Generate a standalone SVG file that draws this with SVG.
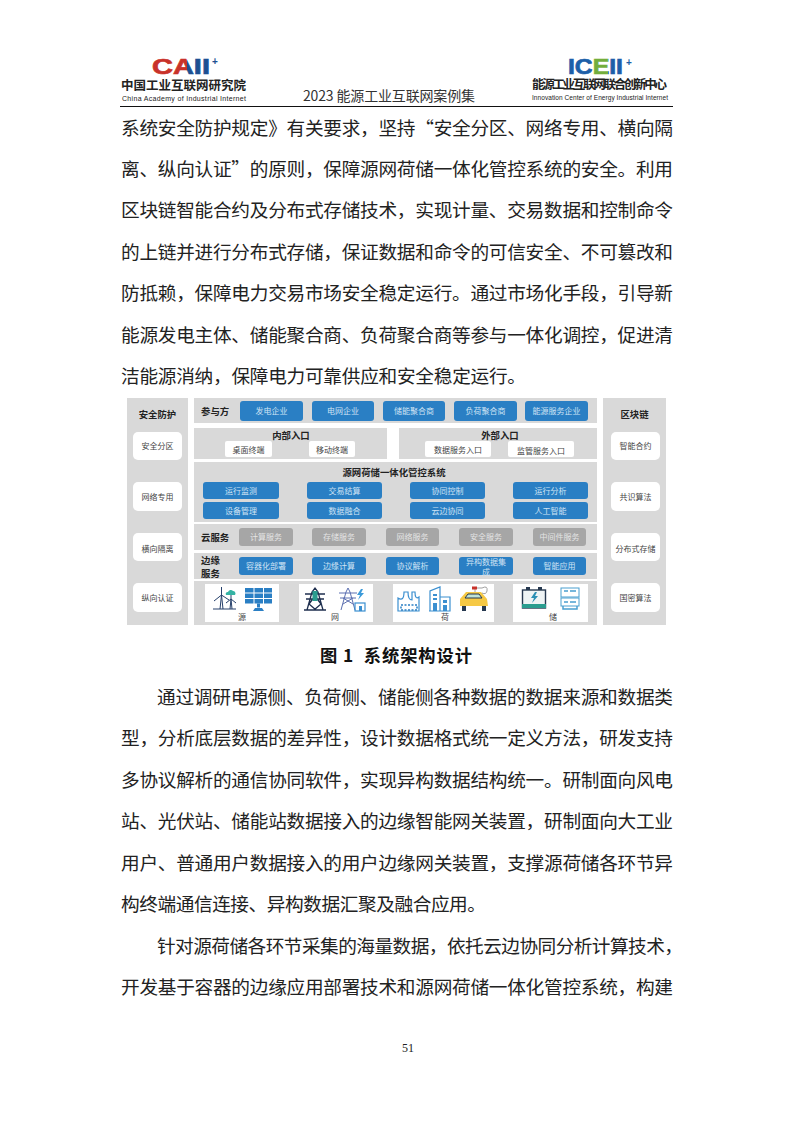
<svg xmlns="http://www.w3.org/2000/svg" width="793" height="1122" viewBox="0 0 793 1122">
<style>
text{font-family:"Noto Sans CJK SC","Liberation Sans",sans-serif}
.body{font-family:"Noto Sans CJK SC",sans-serif;font-size:18.67px;fill:#222}
.panel{fill:#d9d9d9}
.blue{fill:#2a7fc4}
.gray{fill:#a6a6a6}
.wh{fill:#fff}
.wt{font-size:8px;fill:#cfe3f4;text-anchor:middle}
.gt{font-size:8px;fill:#e4e4e4;text-anchor:middle}
.dt{font-size:8px;fill:#444;text-anchor:middle}
.h{font-size:9.4px;font-weight:700;fill:#222}
.logo{font-family:"Liberation Sans",sans-serif;font-size:22.300px;font-weight:700;stroke-width:.7}
.ic{fill:none;stroke:#26406b;stroke-width:1}
.ib{fill:none;stroke:#3b8fd0;stroke-width:1.2}
</style>
<defs>
<linearGradient id="caii" gradientUnits="userSpaceOnUse" x1="152" y1="0" x2="210" y2="0">
<stop offset="0" stop-color="#c8322a"/><stop offset=".6" stop-color="#c8322a"/><stop offset=".6" stop-color="#1d4f91"/><stop offset="1" stop-color="#1d4f91"/>
</linearGradient>
<linearGradient id="iceii" gradientUnits="userSpaceOnUse" x1="568" y1="0" x2="623" y2="0">
<stop offset="0" stop-color="#1d5fa8"/><stop offset=".44" stop-color="#1d5fa8"/><stop offset=".44" stop-color="#72ad3c"/><stop offset=".73" stop-color="#72ad3c"/><stop offset=".73" stop-color="#1d5fa8"/><stop offset="1" stop-color="#1d5fa8"/>
</linearGradient>
</defs>
<rect width="793" height="1122" fill="#fff"/>
<g id="header">
<text class="logo" x="152" y="74" textLength="58" lengthAdjust="spacingAndGlyphs" fill="url(#caii)" stroke="url(#caii)">CAII</text>
<text x="212" y="65" font-size="10" font-weight="700" style="font-family:'Liberation Sans',sans-serif" fill="#1d4f91">+</text>
<text x="121" y="90" font-size="12.500" font-weight="700" fill="#222" textLength="125">中国工业互联网研究院</text>
<text x="122" y="100.500" font-size="7" style="font-family:'Liberation Sans',sans-serif" fill="#222" textLength="124">China Academy of Industrial Internet</text>
<text x="303" y="101" font-size="14" fill="#333" textLength="172">2023 能源工业互联网案例集</text>
<text class="logo" x="568" y="74" textLength="55" lengthAdjust="spacingAndGlyphs" fill="url(#iceii)" stroke="url(#iceii)">ICEII</text>
<text x="626" y="66" font-size="10" font-weight="700" style="font-family:'Liberation Sans',sans-serif" fill="#1d5fa8">+</text>
<text x="532" y="89" font-size="12.500" font-weight="700" fill="#222" textLength="135">能源工业互联网联合创新中心</text>
<text x="532" y="99.500" font-size="6.500" style="font-family:'Liberation Sans',sans-serif" fill="#222" textLength="136">Innovation Center of Energy Industrial Internet</text>
<rect x="120" y="106" width="553" height="1" fill="#111"/>
</g>
<g id="para1">
<text class="body" x="121" y="135" textLength="552">系统安全防护规定》有关要求，坚持“安全分区、网络专用、横向隔</text>
<text class="body" x="121" y="176" textLength="552">离、纵向认证”的原则，保障源网荷储一体化管控系统的安全。利用</text>
<text class="body" x="121" y="217" textLength="552">区块链智能合约及分布式存储技术，实现计量、交易数据和控制命令</text>
<text class="body" x="121" y="259" textLength="552">的上链并进行分布式存储，保证数据和命令的可信安全、不可篡改和</text>
<text class="body" x="121" y="300" textLength="552">防抵赖，保障电力交易市场安全稳定运行。通过市场化手段，引导新</text>
<text class="body" x="121" y="342" textLength="552">能源发电主体、储能聚合商、负荷聚合商等参与一体化调控，促进清</text>
<text class="body" x="121" y="383" textLength="405">洁能源消纳，保障电力可靠供应和安全稳定运行。</text>
</g>
<g id="figure">
<rect class="panel" x="127" y="398" width="61" height="227"/>
<rect class="panel" x="603" y="398" width="63" height="227"/>
<rect class="panel" x="194" y="398" width="403" height="25"/>
<rect class="panel" x="194" y="428" width="193" height="31"/>
<rect class="panel" x="399" y="428" width="198" height="31"/>
<rect class="panel" x="194" y="462" width="403" height="60"/>
<rect class="panel" x="194" y="524" width="403" height="26"/>
<rect class="panel" x="194" y="553" width="403" height="26"/>
<rect class="panel" x="194" y="581" width="403" height="44"/>
<text class="h" x="157.500" y="418" text-anchor="middle">安全防护</text>
<text class="h" x="634.500" y="418" text-anchor="middle">区块链</text>
<text class="h" x="201" y="415">参与方</text>
<text class="h" x="291" y="439" text-anchor="middle">内部入口</text>
<text class="h" x="500" y="439" text-anchor="middle">外部入口</text>
<text class="h" x="394" y="476" text-anchor="middle">源网荷储一体化管控系统</text>
<text class="h" x="201" y="541">云服务</text>
<text class="h" x="201" y="564">边缘</text>
<text class="h" x="201" y="577">服务</text>
<g id="left-items">
<rect class="wh" x="133" y="432" width="49" height="28" rx="5"/><text class="dt" x="157.500" y="449">安全分区</text>
<rect class="wh" x="133" y="482" width="49" height="29" rx="5"/><text class="dt" x="157.500" y="500">网络专用</text>
<rect class="wh" x="133" y="533" width="49" height="28" rx="5"/><text class="dt" x="157.500" y="552">横向隔离</text>
<rect class="wh" x="133" y="583" width="49" height="29" rx="5"/><text class="dt" x="157.500" y="601">纵向认证</text>
</g>
<g id="right-items">
<rect class="wh" x="611" y="432" width="49" height="28" rx="5"/><text class="dt" x="635.500" y="449">智能合约</text>
<rect class="wh" x="611" y="482" width="49" height="29" rx="5"/><text class="dt" x="635.500" y="500">共识算法</text>
<rect class="wh" x="611" y="533" width="49" height="28" rx="5"/><text class="dt" x="635.500" y="552">分布式存储</text>
<rect class="wh" x="611" y="583" width="49" height="29" rx="5"/><text class="dt" x="635.500" y="601">国密算法</text>
</g>
<g id="participants">
<rect class="blue" x="240" y="401" width="63" height="20" rx="3"/><text class="wt" x="271.500" y="414">发电企业</text>
<rect class="blue" x="312" y="401" width="62" height="20" rx="3"/><text class="wt" x="343" y="414">电网企业</text>
<rect class="blue" x="383" y="401" width="62" height="20" rx="3"/><text class="wt" x="414" y="414">储能聚合商</text>
<rect class="blue" x="454" y="401" width="63" height="20" rx="3"/><text class="wt" x="485.500" y="414">负荷聚合商</text>
<rect class="blue" x="525" y="401" width="63" height="20" rx="3"/><text class="wt" x="556.500" y="414">能源服务企业</text>
</g>
<g id="entries">
<rect class="wh" x="225" y="441" width="47" height="16" rx="2"/><text class="dt" x="248.500" y="453">桌面终端</text>
<rect class="wh" x="309" y="441" width="46" height="16" rx="2"/><text class="dt" x="332" y="453">移动终端</text>
<rect class="wh" x="425" y="441" width="66" height="16" rx="2"/><text class="dt" x="458" y="453">数据服务入口</text>
<rect class="wh" x="508" y="441" width="66" height="16" rx="2"/><text class="dt" x="541" y="454">监管服务入口</text>
</g>
<g id="system">
<rect class="blue" x="203" y="482" width="76" height="17" rx="3"/><text class="wt" x="241" y="494">运行监测</text>
<rect class="blue" x="307" y="482" width="75" height="17" rx="3"/><text class="wt" x="344.500" y="494">交易结算</text>
<rect class="blue" x="410" y="482" width="75" height="17" rx="3"/><text class="wt" x="447.500" y="494">协同控制</text>
<rect class="blue" x="513" y="482" width="75" height="17" rx="3"/><text class="wt" x="550.500" y="494">运行分析</text>
<rect class="blue" x="203" y="502" width="76" height="17" rx="3"/><text class="wt" x="241" y="514">设备管理</text>
<rect class="blue" x="307" y="502" width="75" height="17" rx="3"/><text class="wt" x="344.500" y="514">数据融合</text>
<rect class="blue" x="410" y="502" width="75" height="17" rx="3"/><text class="wt" x="447.500" y="514">云边协同</text>
<rect class="blue" x="513" y="502" width="75" height="17" rx="3"/><text class="wt" x="550.500" y="514">人工智能</text>
</g>
<g id="cloud">
<rect class="gray" x="239" y="528" width="54" height="18" rx="3"/><text class="gt" x="266" y="540">计算服务</text>
<rect class="gray" x="312" y="528" width="54" height="18" rx="3"/><text class="gt" x="339" y="540">存储服务</text>
<rect class="gray" x="386" y="528" width="53" height="18" rx="3"/><text class="gt" x="412.500" y="540">网络服务</text>
<rect class="gray" x="459" y="528" width="54" height="18" rx="3"/><text class="gt" x="486" y="540">安全服务</text>
<rect class="gray" x="533" y="528" width="53" height="18" rx="3"/><text class="gt" x="559.500" y="540">中间件服务</text>
</g>
<g id="edge">
<rect class="blue" x="239" y="557" width="54" height="18" rx="3"/><text class="wt" x="266" y="569">容器化部署</text>
<rect class="blue" x="312" y="557" width="54" height="18" rx="3"/><text class="wt" x="339" y="569">边缘计算</text>
<rect class="blue" x="386" y="557" width="53" height="18" rx="3"/><text class="wt" x="412.500" y="569">协议解析</text>
<rect class="blue" x="459" y="557" width="54" height="18" rx="3"/><text class="wt" x="486" y="564.500">异构数据集</text><text class="wt" x="486" y="574.500">成</text>
<rect class="blue" x="533" y="557" width="53" height="18" rx="3"/><text class="wt" x="559.500" y="569">智能应用</text>
</g>
<g id="assets">
<rect class="wh" x="205" y="584" width="74" height="38"/>
<rect class="wh" x="299" y="584" width="74" height="38"/>
<rect class="wh" x="393" y="584" width="101" height="38"/>
<rect class="wh" x="513" y="584" width="75" height="38"/>
<text class="dt" x="242" y="620">源</text>
<text class="dt" x="335" y="620">网</text>
<text class="dt" x="445" y="620">荷</text>
<text class="dt" x="553" y="620">储</text>
<g id="wind">
<path class="ic" d="M220 609L221.500 595L223 609M221.500 595L221.500 587M221.500 595L214 601M221.500 595L229 600M213 609H236M230 609L231 599L232 609M231 599L231 594M231 599L226 603M231 599L236 603"/>
<path d="M226 595a2 2 0 0 1 2-3a3 3 0 0 1 5-1a2.500 2.500 0 0 1 2 4z" fill="#35b3a4"/>
</g>
<g id="solar" fill="#2a7fc4">
<rect x="245" y="588" width="8.500" height="4.500"/><rect x="254.500" y="588" width="8.500" height="4.500"/><rect x="264" y="588" width="8" height="4.500"/>
<rect x="245" y="593.500" width="8.500" height="4.500"/><rect x="254.500" y="593.500" width="8.500" height="4.500"/><rect x="264" y="593.500" width="8" height="4.500"/>
<rect x="245" y="599" width="8.500" height="4.500"/><rect x="254.500" y="599" width="8.500" height="4.500"/><rect x="264" y="599" width="8" height="4.500"/>
<path d="M257 603.500h3v4h-3zM253 611l2-3h7l2 3z"/>
</g>
<g id="tower1">
<path d="M307 610L312 592L315 588L318 592L323 610M304 610H326M305 594H325M306 599H324M312 592L321 604M318 592L309 604M309 604L316 610M321 604L314 610" fill="none" stroke="#1f2f4f" stroke-width="1.300"/>
<rect x="312.500" y="591" width="5" height="10" fill="#2a9d8f"/>
</g>
<g id="tower2">
<path d="M341 610L346 592L348 588L350 592L355 610M339 593H357M340 598H356M343 604L353 598M353 604L343 598" fill="none" stroke="#5b6fb0" stroke-width="1"/>
<path d="M361 589l-4 6h3l-2 5l6-7h-3l2-4z" fill="#3b9ad9"/>
<rect class="ib" x="355" y="603" width="10" height="8"/>
<rect x="359" y="606" width="3" height="5" fill="#3b8fd0"/>
</g>
<g id="factory">
<path class="ib" stroke-width="1.500" d="M398 598Q404 602 404 592H408Q408 600 412 600V592H415Q415 600 419 597V611H398Z"/>
<path d="M401 605h16v5h-16z" fill="none" stroke="#2a7fc4" stroke-width="1.500" stroke-dasharray="2 1.500"/>
</g>
<g id="building">
<path class="ib" stroke-width="1.500" d="M430 611V591L440 587V611M440 597H450V611H429"/>
<path d="M433 594h4v2h-4zM433 598h4v2h-4zM433 603h4v8h-4zM443 600h4v3h-4zM443 605h4v6h-4z" fill="#3b8fd0"/>
</g>
<g id="car">
<path d="M460 599L466 592H481L487 599L488 606H460Z" fill="#f6c945"/>
<path d="M465 598L468 594H479L482 598Z" fill="#bfe3d6" stroke="#26384f" stroke-width="1"/>
<rect x="462" y="606" width="4" height="5" fill="#26384f"/><rect x="482" y="606" width="4" height="5" fill="#26384f"/>
<path d="M475 592L475 588H482Q488 585 487 591Q486 595 482 593" fill="none" stroke="#888" stroke-width=".8"/>
<rect x="472" y="586.500" width="5" height="3" fill="#c8322a"/>
</g>
<g id="battery">
<rect x="522.500" y="590" width="23" height="18" fill="#eef3f4" stroke="#26384f" stroke-width="1.400"/>
<rect x="526" y="587" width="4" height="3" fill="#26384f"/><rect x="538" y="587" width="4" height="3" fill="#26384f"/>
<rect x="522" y="604" width="24" height="4" fill="#2a9d8f"/>
<path d="M535 592l-4 6h3l-2 5l6-7h-3l2-4z" fill="#2a8fb4"/>
</g>
<g id="server" fill="none" stroke="#4a9fd0" stroke-width="1">
<rect x="561" y="588" width="18" height="9"/><rect x="561" y="598" width="18" height="8"/>
<path d="M563 606v3h14v-3M564 591h4M570 591h6M564 602h4M570 602h6" stroke-width="1.500"/>
</g>
</g>
</g>
<text x="320" y="662" font-size="17.300" font-weight="700" fill="#111" textLength="152" xml:space="preserve">图 1  系统架构设计</text>
<g id="para2">
<text class="body" x="157" y="704" textLength="516">通过调研电源侧、负荷侧、储能侧各种数据的数据来源和数据类</text>
<text class="body" x="121" y="745" textLength="552">型，分析底层数据的差异性，设计数据格式统一定义方法，研发支持</text>
<text class="body" x="121" y="787" textLength="552">多协议解析的通信协同软件，实现异构数据结构统一。研制面向风电</text>
<text class="body" x="121" y="828" textLength="552">站、光伏站、储能站数据接入的边缘智能网关装置，研制面向大工业</text>
<text class="body" x="121" y="870" textLength="552">用户、普通用户数据接入的用户边缘网关装置，支撑源荷储各环节异</text>
<text class="body" x="121" y="911" textLength="365">构终端通信连接、异构数据汇聚及融合应用。</text>
<text class="body" x="157" y="953" textLength="526">针对源荷储各环节采集的海量数据，依托云边协同分析计算技术，</text>
<text class="body" x="121" y="994" textLength="552">开发基于容器的边缘应用部署技术和源网荷储一体化管控系统，构建</text>
</g>
<text x="408" y="1052" text-anchor="middle" font-size="12" style="font-family:'Liberation Serif',serif" fill="#222">51</text>
</svg>
